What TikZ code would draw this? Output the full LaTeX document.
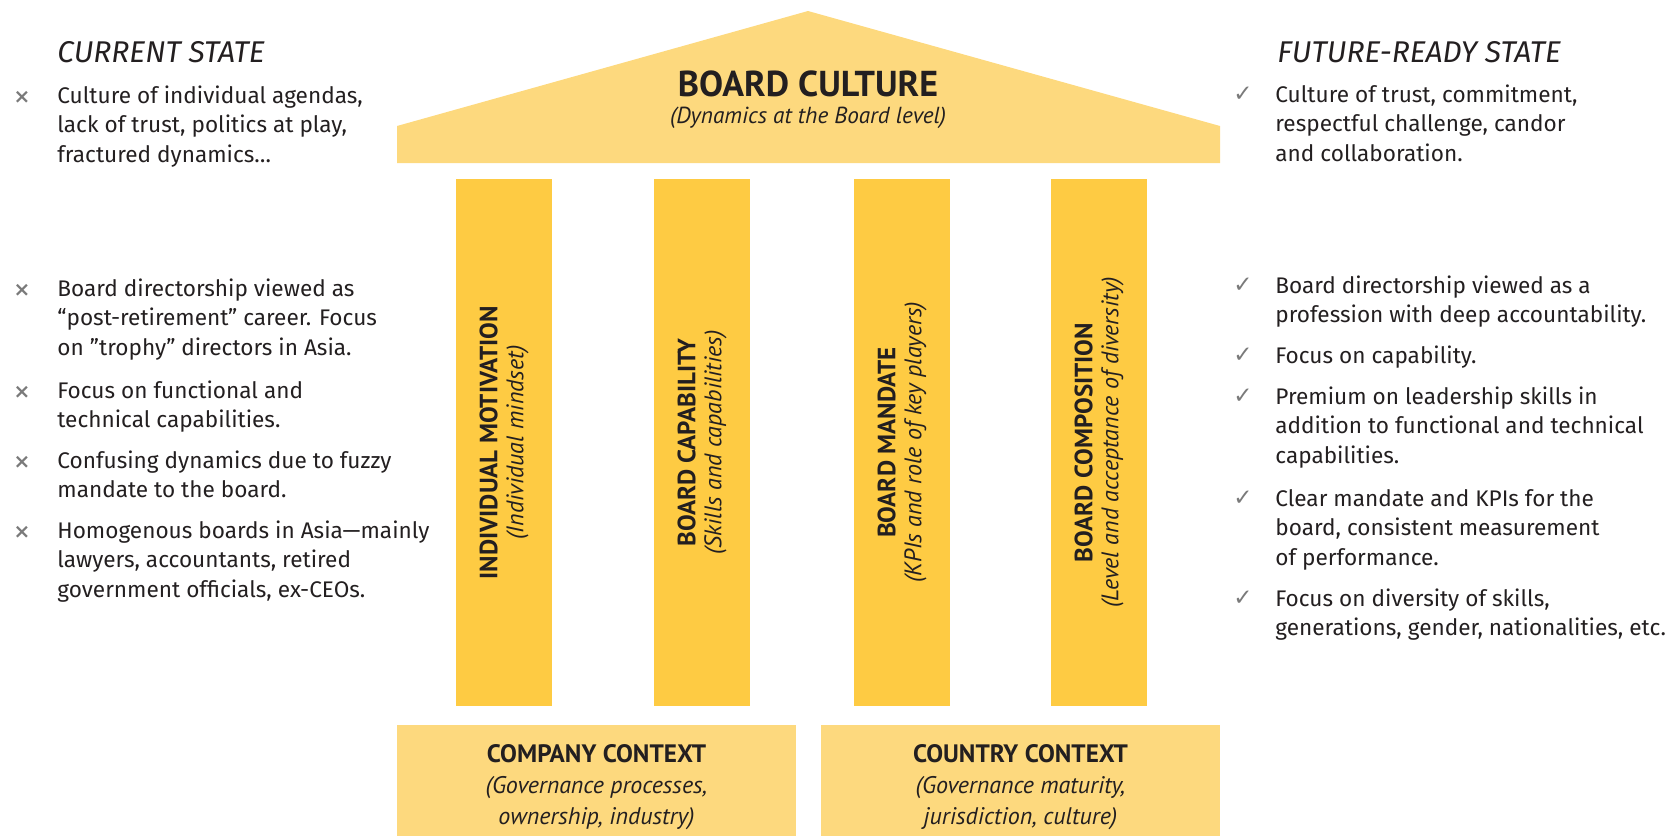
\documentclass[tikz,border=0pt]{standalone}
\usepackage{fontspec}
\setmainfont{Fira Sans}
\newfontfamily\ptsans{PT Sans}
\newfontfamily\dejavu{DejaVu Sans}
\usepackage{tikz}
\definecolor{roofyellow}{HTML}{FDD97E}
\definecolor{pillaryellow}{HTML}{FECB43}
\definecolor{ink}{HTML}{231F20}
\definecolor{markgray}{HTML}{7A7A7A}

\begin{document}
\begin{tikzpicture}[x=0.5pt, y=-0.5pt,
	sidetext/.style={anchor=north west, inner sep=0pt, align=left, text=ink, font=\fontsize{11.3}{14.75}\selectfont},
	sidehead/.style={anchor=base west, inner sep=0pt, text=ink, font=\fontsize{15}{18}\selectfont\itshape},
	xmark/.style={anchor=base, inner sep=0pt, text=markgray, font=\dejavu\bfseries\fontsize{10}{11}\selectfont},
	vmark/.style={anchor=base, inner sep=0pt, text=markgray, font=\dejavu\fontsize{11.5}{12}\selectfont},
	pillar/.style={fill=pillaryellow, rotate=90, minimum width=263.5pt, minimum height=48pt, inner sep=0pt, align=center, text=ink, font=\ptsans\fontsize{12}{13}\selectfont},
	basebox/.style={fill=roofyellow, minimum width=199.5pt, minimum height=55.5pt, inner sep=0pt},
	basetext/.style={inner sep=0pt, align=center, text=ink, font=\ptsans\fontsize{12}{15.5}\selectfont}]
				\useasboundingbox (0, 0) rectangle (1678, 836);
				\fill[roofyellow] (397, 163) -- (397, 126) -- (808, 11) -- (1220, 126) -- (1220, 163) -- cycle;
				\node[anchor=base, inner sep=0pt, text=ink, font=\ptsans\bfseries\fontsize{18}{20}\selectfont] (Culture)at(808, 96) {BOARD CULTURE};
				\node[anchor=base, inner sep=0pt, text=ink, font=\ptsans\itshape\fontsize{11.6}{14}\selectfont] (Dyn)at(808, 123) {(Dynamics at the Board level)};
				\node[pillar] (IM)at(504, 442.5) {{\bfseries\fontsize{12.5}{13}\selectfont INDIVIDUAL MOTIVATION}\\{\itshape (Individual mindset)}};
				\node[pillar] (BCap)at(702, 442.5) {{\bfseries\fontsize{12.5}{13}\selectfont BOARD CAPABILITY}\\{\itshape (Skills and capabilities)}};
				\node[pillar] (BM)at(902, 442.5) {{\bfseries\fontsize{12.5}{13}\selectfont BOARD MANDATE}\\{\itshape (KPIs and role of key players)}};
				\node[pillar] (BCo)at(1099, 442.5) {{\bfseries\fontsize{12.5}{13}\selectfont BOARD COMPOSITION}\\{\itshape (Level and acceptance of diversity)}};
				\node[basebox] (CoC)at(596.5, 780.5) {};
				\node[basebox] (CtC)at(1020.5, 780.5) {};
				\node[basetext] (CoCt) at ([yshift=-3.5pt]CoC.center) {{\bfseries\fontsize{12.6}{15.5}\selectfont COMPANY CONTEXT}\\{\itshape (Governance processes,}\\{\itshape ownership, industry)}};
				\node[basetext] (CtCt) at ([yshift=-3.5pt]CtC.center) {{\bfseries\fontsize{12.6}{15.5}\selectfont COUNTRY CONTEXT}\\{\itshape (Governance maturity,}\\{\itshape jurisdiction, culture)}};
				\node[sidehead] (Cur)at(57, 62) {CURRENT STATE};
				\node[sidehead] (Fut)at(1277, 62) {FUTURE-READY STATE};
				\node[xmark] (x1)at(22, 103) {×};
				\node[sidetext] (c1)at(57, 82.3) {\strut Culture of individual agendas,\\lack of trust, politics at play,\\fractured dynamics…};
				\node[xmark] (x2)at(22, 296) {×};
				\node[sidetext] (c2)at(57, 275.3) {\strut Board directorship viewed as\\“post-retirement” career. Focus\\on ”trophy” directors in Asia.};
				\node[xmark] (x3)at(22, 398) {×};
				\node[sidetext] (c3)at(57, 377.3) {\strut Focus on functional and\\technical capabilities.};
				\node[xmark] (x4)at(22, 468) {×};
				\node[sidetext] (c4)at(57, 447.3) {\strut Confusing dynamics due to fuzzy\\mandate to the board.};
				\node[xmark] (x5)at(22, 538) {×};
				\node[sidetext] (c5)at(57, 517.3) {\strut Homogenous boards in Asia—mainly\\lawyers, accountants, retired\\government officials, ex-CEOs.};
				\node[vmark] (v1)at(1243, 101) {✓};
				\node[sidetext] (f1)at(1275, 81.3) {\strut Culture of trust, commitment,\\respectful challenge, candor\\and collaboration.};
				\node[vmark] (v2)at(1243, 292) {✓};
				\node[sidetext] (f2)at(1275, 272.3) {\strut Board directorship viewed as a\\profession with deep accountability.};
				\node[vmark] (v3)at(1243, 362) {✓};
				\node[sidetext] (f3)at(1275, 342.3) {\strut Focus on capability.};
				\node[vmark] (v4)at(1243, 403) {✓};
				\node[sidetext] (f4)at(1275, 383.3) {\strut Premium on leadership skills in\\addition to functional and technical\\capabilities.};
				\node[vmark] (v5)at(1243, 505) {✓};
				\node[sidetext] (f5)at(1275, 485.3) {\strut Clear mandate and KPIs for the\\board, consistent measurement\\of performance.};
				\node[vmark] (v6)at(1243, 605) {✓};
				\node[sidetext] (f6)at(1275, 585.3) {\strut Focus on diversity of skills,\\generations, gender, nationalities, etc.};
			\end{tikzpicture}
\end{document}
